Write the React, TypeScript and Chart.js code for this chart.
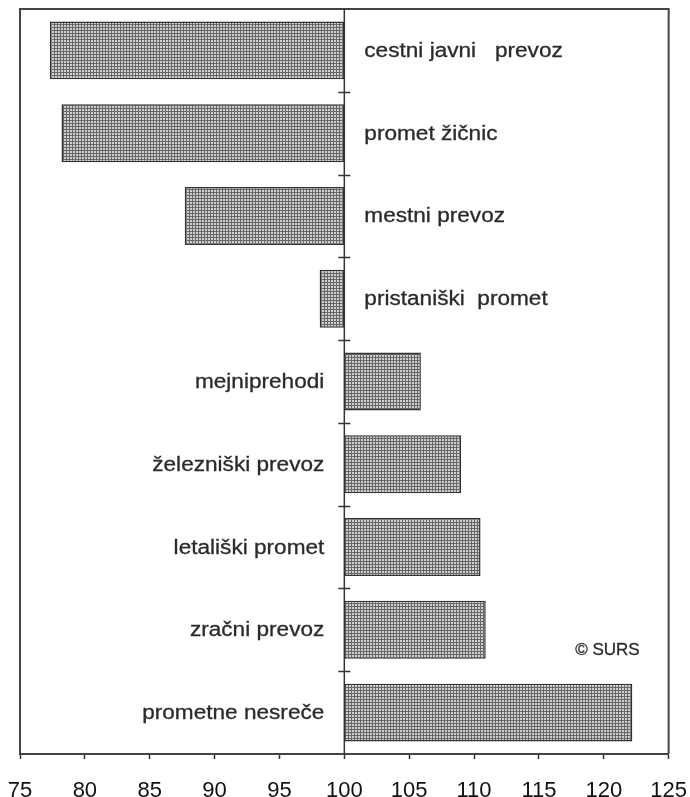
import React, { useEffect, useRef } from "react";
import { Chart, registerables } from "chart.js";

Chart.register(...registerables);

const categories = [
  "cestni javni   prevoz",
  "promet žičnic",
  "mestni prevoz",
  "pristaniški  promet",
  "mejniprehodi",
  "železniški prevoz",
  "letališki promet",
  "zračni prevoz",
  "prometne nesreče",
];
const baseValue = 100;
const values = [77.3, 78.2, 87.7, 98.1, 105.9, 109.0, 110.5, 110.9, 122.2];
const xTicksMin = 75;
const xTicksMax = 125;
const xTickStep = 5;
const sourceNote = "© SURS";

function makePattern(): CanvasPattern | string {
  const c = document.createElement("canvas");
  c.width = 3;
  c.height = 3;
  const g = c.getContext("2d");
  if (!g) return "#999";
  g.fillStyle = "#666666";
  g.fillRect(0, 0, 3, 3);
  g.fillStyle = "#cfcfcf";
  g.fillRect(1, 1, 2, 2);
  const main = document.createElement("canvas").getContext("2d");
  const p = main ? main.createPattern(c, "repeat") : null;
  return p || "#999";
}

const overlayPlugin = {
  id: "overlay",
  afterDatasetsDraw(chart: any) {
    const { ctx, chartArea, scales } = chart;
    const xs = scales.x;
    const ys = scales.y;
    const x100 = xs.getPixelForValue(baseValue);
    ctx.save();
    // frame
    ctx.strokeStyle = "#444";
    ctx.lineWidth = 2;
    ctx.beginPath();
    ctx.moveTo(chartArea.left, chartArea.bottom);
    ctx.lineTo(chartArea.left, chartArea.top);
    ctx.lineTo(chartArea.right, chartArea.top);
    ctx.lineTo(chartArea.right, chartArea.bottom);
    ctx.stroke();
    // baseline axis with category ticks
    ctx.strokeStyle = "#333";
    ctx.lineWidth = 1.5;
    ctx.beginPath();
    ctx.moveTo(x100, chartArea.top);
    ctx.lineTo(x100, chartArea.bottom);
    for (let i = 1; i < categories.length; i++) {
      const y = Math.round(ys.getPixelForValue(i - 0.5)) + 0.5;
      ctx.moveTo(x100 - 6, y);
      ctx.lineTo(x100 + 6, y);
    }
    ctx.stroke();
    // category labels
    ctx.fillStyle = "#2a2a2a";
    ctx.strokeStyle = "#2a2a2a";
    ctx.lineWidth = 0.3;
    ctx.font = "20px 'Liberation Sans', Arial, sans-serif";
    ctx.textBaseline = "middle";
    categories.forEach((label, i) => {
      const y = ys.getPixelForValue(i) + 1;
      const neg = values[i] < baseValue;
      ctx.save();
      if (neg) {
        ctx.translate(x100 + 20, y);
        ctx.textAlign = "left";
      } else {
        ctx.translate(x100 - 20, y);
        ctx.textAlign = "right";
      }
      ctx.scale(1.13, 1);
      ctx.fillText(label, 0, 0);
      ctx.strokeText(label, 0, 0);
      ctx.restore();
    });
    // source note
    ctx.font = "17px 'Liberation Sans', Arial, sans-serif";
    ctx.textAlign = "right";
    const sy = ys.getPixelForValue(7.25);
    ctx.fillText(sourceNote, chartArea.right - 29, sy);
    ctx.strokeText(sourceNote, chartArea.right - 29, sy);
    ctx.restore();
  },
};

export default function App() {
  const ref = useRef<HTMLCanvasElement | null>(null);
  useEffect(() => {
    if (!ref.current) return;
    const pattern = makePattern();
    const chart = new Chart(ref.current, {
      type: "bar",
      data: {
        labels: categories,
        datasets: [
          {
            data: values.map((v) => [baseValue, v]) as any,
            backgroundColor: pattern as any,
            borderColor: "#333",
            borderWidth: 1.5,
            borderSkipped: false,
            barPercentage: 0.7,
            categoryPercentage: 1,
          },
        ],
      },
      options: {
        indexAxis: "y",
        animation: false,
        responsive: false,
        maintainAspectRatio: false,
        layout: { padding: { left: 20, right: 21, top: 9, bottom: 0 } },
        plugins: {
          legend: { display: false },
          tooltip: { enabled: false },
        },
        scales: {
          x: {
            min: xTicksMin,
            max: xTicksMax,
            afterFit: (scale: any) => {
              scale.height = 43;
            },
            ticks: {
              stepSize: xTickStep,
              color: "#111",
              padding: 3,
              font: {
                family: "'Liberation Sans', Arial, sans-serif",
                size: 22,
                lineHeight: 2.65,
              },
            },
            grid: {
              drawOnChartArea: false,
              tickLength: 5,
              tickColor: "#333",
              tickWidth: 1.5,
            },
            border: { display: true, color: "#444", width: 2 },
          },
          y: {
            type: "category",
            display: false,
            offset: true,
          },
        },
      },
      plugins: [overlayPlugin],
    });
    return () => chart.destroy();
  }, []);
  return (
    <div style={{ position: "fixed", left: 0, top: 0, width: 690, height: 797, background: "#fff" }}>
      <canvas ref={ref} width={690} height={797} style={{ display: "block" }} />
    </div>
  );
}
